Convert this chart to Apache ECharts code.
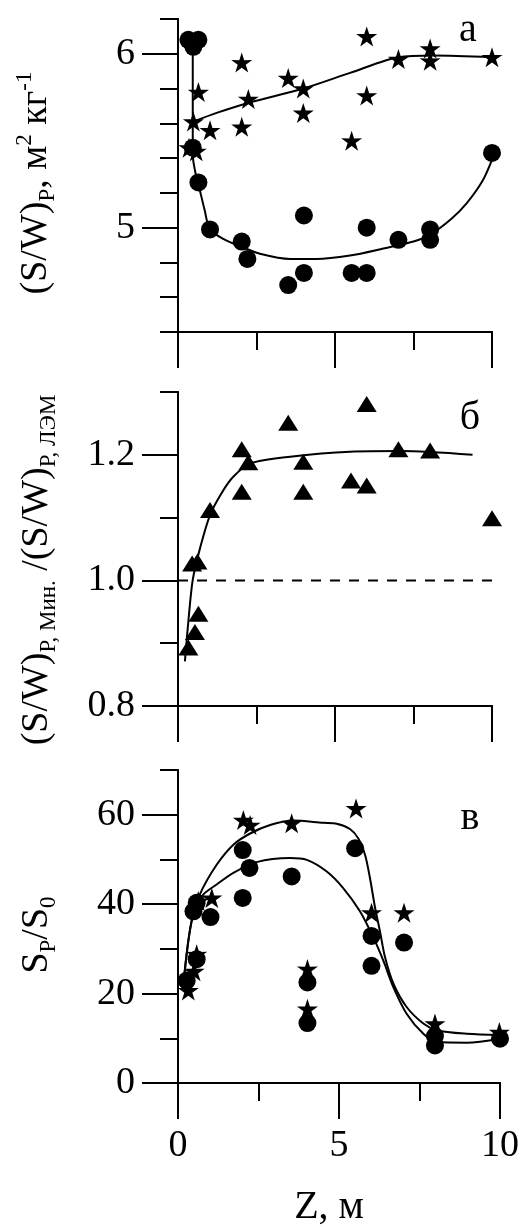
<!DOCTYPE html>
<html><head><meta charset="utf-8">
<script src="https://cdn.jsdelivr.net/npm/echarts@6/dist/echarts.min.js"></script>
<style>html,body{margin:0;padding:0;background:#fff}#c{width:523px;height:1227px}</style>
</head><body><div id="c"></div>
<script>
// ---- data ----
const xMajor = [0, 5, 10];
const xMinor = [2.5, 7.5];
const xLabels = [0, 5, 10];

const aYMajor = [5, 6];
const aYMinor = [4.4, 4.6, 4.8, 5.2, 5.4, 5.6, 5.8, 6.2];
const bYMajor = [0.8, 1.0, 1.2];
const bYMinor = [0.9, 1.1, 1.3];
const cYMajor = [0, 20, 40, 60];
const cYMinor = [10, 30, 50, 70];

const aStars = [[0.65,5.78],[0.49,5.61],[1.02,5.56],[0.35,5.46],[0.58,5.44],[2.03,5.95],[2.24,5.74],[2.03,5.58],[3.51,5.86],[3.99,5.80],[3.99,5.66],[6.01,6.10],[6.01,5.76],[5.53,5.50],[7.02,5.97],[8.03,6.03],[8.03,5.96],[10.0,5.98]];
const aCircles = [[0.33,6.08],[0.65,6.08],[0.49,6.04],[0.47,5.46],[0.65,5.26],[1.02,4.99],[2.03,4.92],[2.21,4.82],[3.51,4.67],[4.01,4.74],[4.01,5.07],[5.53,4.74],[6.01,4.74],[6.01,5.00],[7.02,4.93],[8.03,4.99],[8.03,4.93],[10.0,5.43]];
const aCircleFit = [[0.47,6.07],[0.47,5.7],[0.47,5.42],[0.55,5.32],[0.65,5.25],[0.85,5.1],[1.02,4.99],[1.5,4.93],[2.03,4.89],[2.61,4.85],[3.57,4.82],[4.41,4.82],[5.48,4.84],[6.54,4.88],[7.5,4.92],[8.03,4.96],[8.7,5.05],[9.19,5.14],[9.7,5.27],[10.0,5.39]];
const aStarFit = [[0.49,5.61],[1.23,5.66],[2.29,5.72],[3.99,5.80],[5.48,5.89],[7.02,5.98],[8.13,5.99],[10.0,5.98]];

const bTriangles = [[0.33,0.893],[0.54,0.918],[0.65,0.947],[0.45,1.027],[0.62,1.030],[1.02,1.112],[2.03,1.209],[2.24,1.188],[2.03,1.141],[3.51,1.251],[3.99,1.189],[3.99,1.141],[6.01,1.281],[5.51,1.159],[6.01,1.151],[7.02,1.209],[8.03,1.207],[10.0,1.099]];
const bFit = [[0.22,0.871],[0.33,0.935],[0.47,1.001],[0.70,1.051],[1.02,1.104],[1.4,1.14],[1.76,1.165],[2.29,1.186],[3.57,1.197],[5.48,1.205],[7.07,1.206],[9.38,1.200]];
const bRef = [[0,1.0],[10.25,1.0]];

const cStars = [[0.32,20.7],[0.58,28.8],[0.5,25.0],[0.63,40.7],[1.05,41.4],[2.03,58.8],[2.24,57.7],[3.53,58.1],[5.53,61.4],[6.01,38.1],[7.02,38.1],[4.02,25.5],[4.02,16.6],[7.98,13.3],[9.98,11.4]];
const cCircles = [[0.27,22.9],[0.58,27.7],[0.48,38.4],[0.58,40.3],[1.01,37.1],[2.01,52.1],[2.01,41.4],[2.22,48.1],[3.53,46.2],[5.50,52.5],[6.01,32.9],[6.01,26.2],[7.02,31.4],[4.02,22.5],[4.02,13.4],[7.98,8.4],[7.98,10.5],[10.0,9.9]];
const cStarFit = [[0.16,21.4],[0.27,28.8],[0.42,36.2],[0.68,42.2],[1.20,48.8],[1.72,53.3],[2.24,55.8],[2.86,57.7],[3.58,58.7],[4.51,58.2],[4.93,58.0],[5.34,56.8],[5.60,54.7],[5.81,51.0],[5.96,45.9],[6.12,39.2],[6.27,34.0],[6.43,28.1],[6.69,22.2],[7.10,17.0],[7.62,13.3],[8.03,11.8],[8.97,11.0],[10.0,10.7]];
const cCircleFit = [[0.16,21.4],[0.32,31.8],[0.53,39.2],[0.79,42.2],[1.20,44.4],[1.72,47.0],[2.44,49.4],[3.48,50.3],[4.0,49.9],[4.62,47.3],[5.13,43.6],[5.65,38.4],[6.07,32.5],[6.38,27.3],[6.69,21.4],[7.10,15.5],[7.62,11.0],[8.03,9.2],[8.97,9.0],[10.0,9.9]];

// ---- styling ----
const FONT = 'Liberation Serif';
const BLACK = '#000';
function starPath() {
  const p = [];
  for (let i = 0; i < 10; i++) {
    const r = i % 2 ? 19 : 50;
    const a = -Math.PI / 2 + i * Math.PI / 5;
    p.push((50 + r * Math.cos(a)).toFixed(2) + ',' + (50 + r * Math.sin(a)).toFixed(2));
  }
  return 'path://M' + p.join('L') + 'Z';
}
const STAR = starPath();
const tickStyle = {color: BLACK, width: 2};
const lineAx = {show: true, onZero: false, lineStyle: {color: BLACK, width: 2}};

function xAxesFor(gi, withLabels) {
  return [
    {gridIndex: gi, type: 'value', position: 'bottom', offset: 0, min: 0, max: 10, axisLine: lineAx,
     axisTick: {show: true, customValues: xMinor, length: 18, lineStyle: tickStyle},
     axisLabel: {show: false}, splitLine: {show: false}},
    {gridIndex: gi, type: 'value', position: 'bottom', offset: 0, min: 0, max: 10, axisLine: lineAx,
     axisTick: {show: true, customValues: xMajor, length: 36, lineStyle: tickStyle},
     axisLabel: withLabels ? {show: true, customValues: xLabels, margin: 44, fontSize: 38, fontFamily: FONT, color: BLACK} : {show: false},
     splitLine: {show: false}}
  ];
}
function yAxesFor(gi, min, max, major, minor, fmt) {
  return [
    {gridIndex: gi, type: 'value', position: 'left', offset: 0, min: min, max: max, axisLine: lineAx,
     axisTick: {show: true, customValues: minor, length: 18, lineStyle: tickStyle},
     axisLabel: {show: false}, splitLine: {show: false}},
    {gridIndex: gi, type: 'value', position: 'left', offset: 0, min: min, max: max, axisLine: lineAx,
     axisTick: {show: true, customValues: major, length: 36, lineStyle: tickStyle},
     axisLabel: {show: true, customValues: major, margin: 43, fontSize: 38, fontFamily: FONT, color: BLACK, formatter: fmt},
     splitLine: {show: false}}
  ];
}
function fitLine(data, xi, yi) {
  return {type: 'line', data: data, xAxisIndex: xi, yAxisIndex: yi, smooth: 0.3, symbol: 'none',
          lineStyle: {color: BLACK, width: 2}, z: 2, silent: true};
}
function dots(data, xi, yi, symbol, size) {
  return {type: 'scatter', data: data, xAxisIndex: xi, yAxisIndex: yi, symbol: symbol, symbolSize: size,
          itemStyle: {color: BLACK, opacity: 1}, z: 3, silent: true};
}

const rich = {
  m: {fontSize: 38, fontFamily: FONT, fill: BLACK, lineHeight: 46},
  s: {fontSize: 23, fontFamily: FONT, fill: BLACK, lineHeight: 23, verticalAlign: 'bottom'},
  p: {fontSize: 23, fontFamily: FONT, fill: BLACK, lineHeight: 23, verticalAlign: 'top'}
};
function vTitle(x, y, text) {
  return {type: 'text', x: x, y: y, rotation: Math.PI / 2,
          style: {text: text, rich: rich, align: 'center', verticalAlign: 'middle', fill: BLACK}};
}
function plain(x, y, text, size) {
  return {type: 'text', x: x, y: y,
          style: {text: text, fontSize: size, fontFamily: FONT, fill: BLACK, align: 'center', verticalAlign: 'middle'}};
}

const option = {
  backgroundColor: '#fff',
  animation: false,
  grid: [
    {left: 178, top: 19, width: 314, height: 313, outerBoundsMode: 'none', containLabel: false},
    {left: 178, top: 392, width: 314, height: 314, outerBoundsMode: 'none', containLabel: false},
    {left: 178, top: 770, width: 322, height: 313, outerBoundsMode: 'none', containLabel: false}
  ],
  xAxis: [].concat(xAxesFor(0, false), xAxesFor(1, false), xAxesFor(2, true)),
  yAxis: [].concat(
    yAxesFor(0, 4.4, 6.2, aYMajor, aYMinor, v => String(v)),
    yAxesFor(1, 0.8, 1.3, bYMajor, bYMinor, v => v.toFixed(1)),
    yAxesFor(2, 0, 70, cYMajor, cYMinor, v => String(v))
  ),
  series: [
    fitLine(aCircleFit, 0, 0),
    fitLine(aStarFit, 0, 0),
    dots(aCircles, 0, 0, 'circle', 18),
    dots(aStars, 0, 0, STAR, [21, 20]),
    fitLine(bFit, 2, 2),
    {type: 'line', data: bRef, xAxisIndex: 2, yAxisIndex: 2, symbol: 'none', clip: false,
     lineStyle: {color: BLACK, width: 2, type: [10, 9]}, z: 1, silent: true},
    dots(bTriangles, 2, 2, 'triangle', [20, 16]),
    fitLine(cStarFit, 4, 4),
    fitLine(cCircleFit, 4, 4),
    dots(cCircles, 4, 4, 'circle', 18),
    dots(cStars, 4, 4, STAR, [21, 20])
  ],
  graphic: [
    vTitle(36, 183, '{m|(S/W)}{s|Р}{m|, м}{p|2}{m| кг}{p|-1}'),
    vTitle(37, 570, '{m|(S/W)}{s|Р, Мин.}{m| /(S/W)}{s|Р, ЛЭМ}'),
    vTitle(37, 935, '{m|S}{s|Р}{m|/S}{s|0}'),
    plain(468, 30, 'а', 40),
    plain(470, 418, 'б', 40),
    plain(470, 818, 'в', 40),
    plain(329, 1207, 'Z, м', 40)
  ]
};
const chart = echarts.init(document.getElementById('c'), null, {renderer: 'canvas'});
chart.setOption(option);
</script>
</body></html>
